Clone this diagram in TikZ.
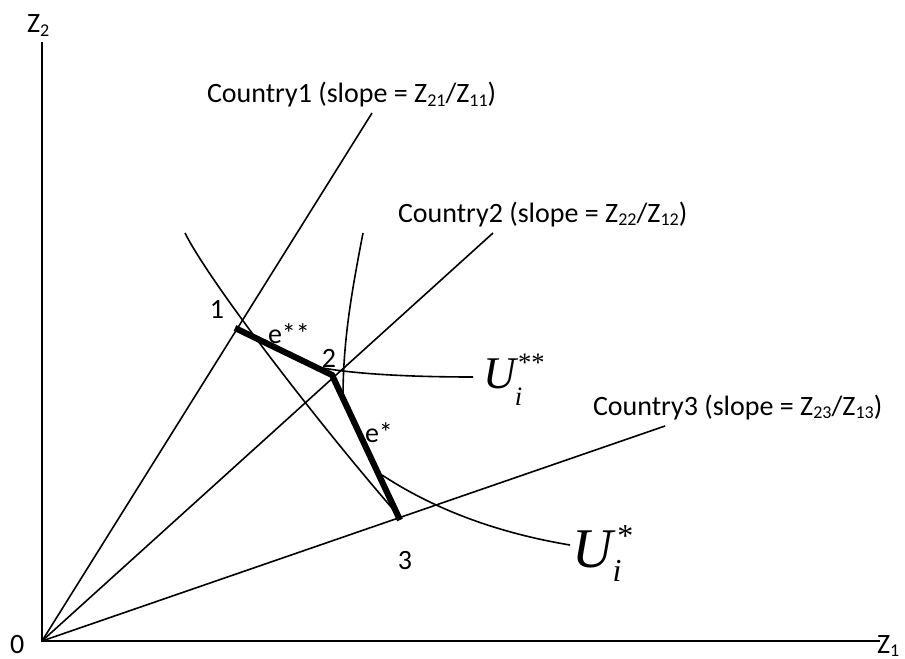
\documentclass[tikz,border=0pt]{standalone}
\usepackage{fontspec}
\setmainfont{Carlito}
\newfontfamily\timesf{Liberation Serif}
\newcommand{\zsub}[1]{\raisebox{-0.14em}{\fontsize{13.5}{13.5}\selectfont #1}}
\begin{document}
\begin{tikzpicture}[x=0.75pt,y=-0.75pt,
  ray/.style={line width=1.2pt},
  heavy/.style={line width=4.6pt},
  lab/.style={font=\fontsize{21}{24}\selectfont, inner sep=0pt, outer sep=0pt}]
\useasboundingbox (0,0) rectangle (905,659);
% coordinates
\coordinate (O) at (42,641);
\coordinate (Z2top) at (42,42);
\coordinate (Z1end) at (880,641);
\coordinate (C1) at (372,113);
\coordinate (C2) at (493,233);
\coordinate (C3) at (665,426);
\coordinate (P1) at (235,328);
\coordinate (P2) at (332,375);
\coordinate (P3) at (400,520);
% axes
\draw[ray] (Z2top) -- (O) -- (Z1end);
% rays
\draw[ray] (O) -- (C1);
\draw[ray] (O) -- (C2);
\draw[ray] (O) -- (C3);
% U* steep branch
\coordinate (UsA) at (185,233);
\coordinate (UsB) at (392,508);
\draw[ray] (UsA) .. controls (210,283) and (320,425) .. (UsB);
% U* flat branch
\coordinate (UsC) at (382,475);
\coordinate (UsD) at (570,545);
\draw[ray] (UsC) .. controls (420,500) and (480,530) .. (UsD);
% U** steep branch
\coordinate (UssA) at (363,233);
\coordinate (UssB) at (343,397);
\draw[ray] (UssA) .. controls (352,290) and (343,340) .. (UssB);
% U** flat branch
\coordinate (UssC) at (323,368);
\coordinate (UssD) at (473,377);
\draw[ray] (UssC) .. controls (350,373) and (400,377) .. (UssD);
% thick segments
\draw[heavy, line join=miter] (P1) -- (P2) -- (P3);
% labels
\node[lab, anchor=base west] (lz2) at (27,33) {Z\zsub{2}};
\node[lab, anchor=base west] (lz1) at (877,653) {Z\zsub{1}};
\node[lab, anchor=base west] (l0) at (10,653) {0};
\node[lab, anchor=base west] (lc1) at (207,103) {Country1 (slope = Z\zsub{21}/Z\zsub{11})};
\node[lab, anchor=base west] (lc2) at (398,222) {Country2 (slope = Z\zsub{22}/Z\zsub{12})};
\node[lab, anchor=base west] (lc3) at (593,415) {Country3 (slope = Z\zsub{23}/Z\zsub{13})};
\node[lab, anchor=base] (l1) at (217,318) {1};
\node[lab, anchor=base] (l2) at (329,367) {2};
\node[lab, anchor=base] (l3) at (405,569) {3};
\node[lab, anchor=base west] (le2) at (268,343) {e**};
\node[lab, anchor=base west] (le1) at (365,442) {e*};
\node[inner sep=0pt, anchor=base west] (lU2) at (483,388)
  {{\fontsize{34}{34}\selectfont\timesf\itshape U}\rlap{\hspace{1.5pt}\raisebox{12.5pt}{\fontsize{20}{20}\selectfont\timesf **}}\hspace{-0.8pt}\raisebox{-13pt}{\fontsize{20}{20}\selectfont\timesf\itshape i}};
\node[inner sep=0pt, anchor=base west] (lU1) at (572,567)
  {{\fontsize{42}{42}\selectfont\timesf\itshape U}\rlap{\hspace{3.5pt}\raisebox{15.5pt}{\fontsize{24}{24}\selectfont\timesf *}}\raisebox{-11pt}{\fontsize{24}{24}\selectfont\timesf\itshape i}};
\end{tikzpicture}
\end{document}
